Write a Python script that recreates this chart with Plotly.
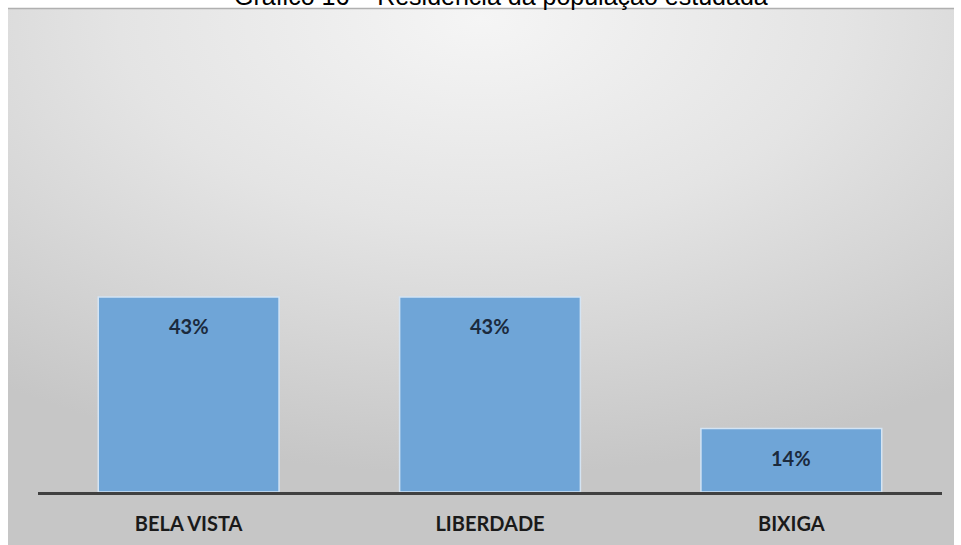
import base64
import plotly.graph_objects as go

# Data
bairros = ["BELA VISTA", "LIBERDADE", "BIXIGA"]
percentuais = [43, 43, 14]
rotulos = [f"{v}%" for v in percentuais]
titulo = "Gráfico 16 – Residência da população estudada"

W, H = 961, 545

# Panel background: soft radial gray gradient, lighter at the top centre
svg = (
    '<svg xmlns="http://www.w3.org/2000/svg" width="946" height="537" viewBox="0 0 946 537" preserveAspectRatio="none">'
    '<defs><radialGradient id="g" cx="0.5" cy="0.02" r="0.85" gradientUnits="objectBoundingBox">'
    '<stop offset="0" stop-color="#f5f5f5"/>'
    '<stop offset="0.45" stop-color="#e4e4e4"/>'
    '<stop offset="1" stop-color="#c6c6c6"/>'
    '</radialGradient></defs>'
    '<rect x="0" y="0" width="946" height="537" fill="url(#g)"/>'
    '</svg>'
)
bg_src = "data:image/svg+xml;base64," + base64.b64encode(svg.encode()).decode()

fig = go.Figure()
fig.add_trace(go.Bar(
    x=bairros,
    y=percentuais,
    marker=dict(color="#6fa5d7", line=dict(color="#d3e4f4", width=1.5)),
    hoverinfo="skip",
))

# Value labels just inside the top of each bar
for cat, val, txt in zip(bairros, percentuais, rotulos):
    fig.add_annotation(
        x=cat, y=val, text=f"<b>{txt}</b>", showarrow=False,
        yanchor="top", yshift=-15,
        font=dict(family="Lato", size=20, color="#1b2a3d"),
    )

# Title (sits at the very top edge of the page)
fig.add_annotation(
    xref="paper", yref="paper", x=501 / W, y=1 - 12 / H,
    xanchor="center", yanchor="bottom", showarrow=False,
    text=titulo,
    font=dict(family="Liberation Sans", size=25, color="#000000"),
)

fig.update_layout(
    width=W, height=H,
    margin=dict(l=0, r=0, t=0, b=0),
    paper_bgcolor="#ffffff",
    plot_bgcolor="rgba(0,0,0,0)",
    showlegend=False,
    bargap=0.4,
    images=[dict(
        source=bg_src, xref="paper", yref="paper",
        x=8 / W, y=1 - 8 / H, sizex=(954 - 8) / W, sizey=(H - 8) / H,
        xanchor="left", yanchor="top", sizing="stretch", layer="below",
    )],
    shapes=[dict(
        type="line", xref="paper", yref="paper",
        x0=8 / W, x1=954 / W, y0=1 - 8.5 / H, y1=1 - 8.5 / H,
        line=dict(color="#b0b0b0", width=1.5),
    )],
    xaxis=dict(
        domain=[38 / W, 942 / W],
        range=[-0.5, 2.5],
        showline=True, linecolor="#404040", linewidth=3,
        showgrid=False, zeroline=False, ticks="",
        tickfont=dict(family="Lato", size=20, color="#1a1a1a", weight="bold"),
        ticklabelstandoff=12,
    ),
    yaxis=dict(
        domain=[(H - 492) / H, (H - 38.5) / H],
        range=[0, 100],
        visible=False, showgrid=False, zeroline=False,
    ),
)

fig.write_html("out.html")
